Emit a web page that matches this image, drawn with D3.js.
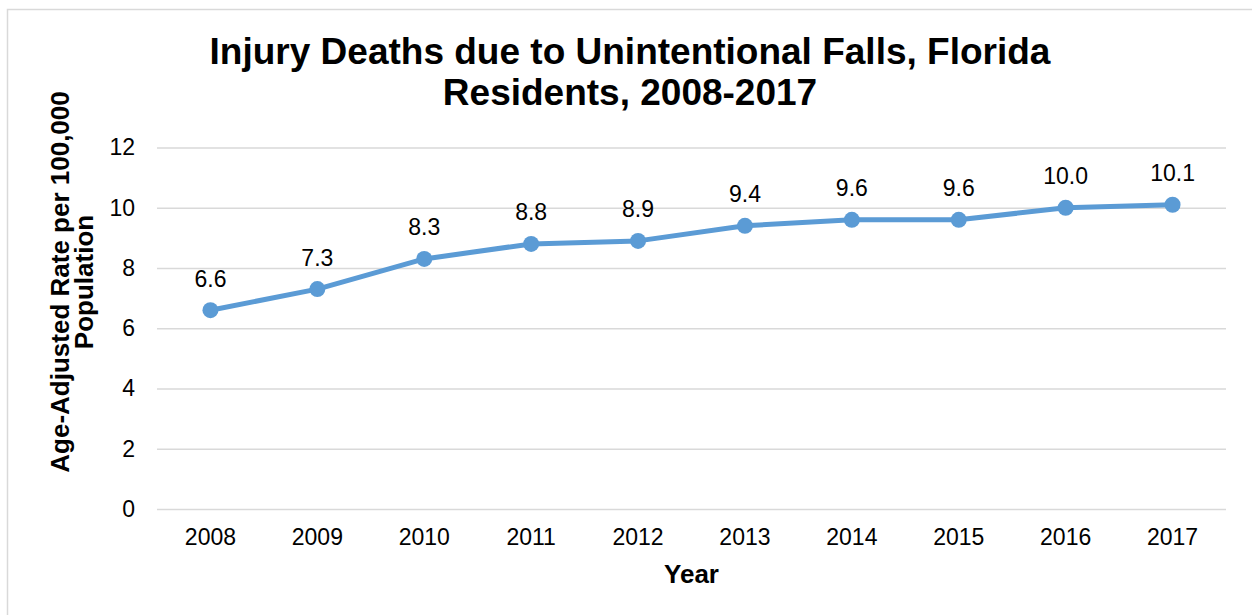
<!DOCTYPE html>
<html>
<head>
<meta charset="utf-8">
<script src="https://cdn.jsdelivr.net/npm/d3@7"></script>
<style>
  body { margin: 0; background: #fff; }
  svg text { font-family: "Liberation Sans", Arial, sans-serif; fill: #000; }
</style>
</head>
<body>
<svg id="chart" width="1252" height="615"></svg>
<script>
// chart data
var years = ["2008", "2009", "2010", "2011", "2012", "2013", "2014", "2015", "2016", "2017"];
var rates = [6.6, 7.3, 8.3, 8.8, 8.9, 9.4, 9.6, 9.6, 10.0, 10.1];
var yTicks = [0, 2, 4, 6, 8, 10, 12];
var titleLines = ["Injury Deaths due to Unintentional Falls, Florida", "Residents, 2008-2017"];
var yTitleLines = ["Age-Adjusted Rate per 100,000", "Population"];

var svg = d3.select("#chart");
// plot area (note: "top" is taken by window.top, so use other names)
var plotLeft = 157, plotRight = 1226, plotTop = 147.5, plotBottom = 509;
var lineColor = "#5b9bd5";

// outer chart border (runs off the right and bottom edges)
svg.append("rect")
    .attr("x", 7.5).attr("y", 9.5)
    .attr("width", 1260).attr("height", 620)
    .attr("fill", "none")
    .attr("stroke", "#d9d9d9")
    .attr("stroke-width", 1.5);

var x = d3.scaleBand().domain(years).range([plotLeft, plotRight]);
var y = d3.scaleLinear().domain([0, 12]).range([plotBottom, plotTop]);

// gridlines + y tick labels
var yAxis = svg.append("g")
    .attr("transform", "translate(" + plotLeft + ",0)")
    .call(d3.axisLeft(y).tickValues(yTicks).tickSize(-(plotRight - plotLeft)).tickPadding(22));
yAxis.select(".domain").remove();
yAxis.selectAll("line").attr("stroke", "#d9d9d9").attr("stroke-width", 1.5);
yAxis.selectAll("text").attr("font-size", 23).attr("font-family", "Liberation Sans, Arial, sans-serif").attr("fill", "#000");

// x tick labels
var xAxis = svg.append("g")
    .attr("transform", "translate(0," + plotBottom + ")")
    .call(d3.axisBottom(x).tickSize(0).tickPadding(20));
xAxis.select(".domain").remove();
xAxis.selectAll("text").attr("font-size", 23).attr("font-family", "Liberation Sans, Arial, sans-serif").attr("fill", "#000");

var cx = function(d, i) { return x(years[i]) + x.bandwidth() / 2; };

// the series line
var line = d3.line()
    .x(function(d, i) { return cx(d, i); })
    .y(function(d) { return y(d); });

svg.append("path")
    .datum(rates)
    .attr("d", line)
    .attr("fill", "none")
    .attr("stroke", lineColor)
    .attr("stroke-width", 5)
    .attr("stroke-linejoin", "round");

svg.selectAll("circle.pt")
    .data(rates)
  .enter().append("circle")
    .attr("class", "pt")
    .attr("cx", cx)
    .attr("cy", function(d) { return y(d); })
    .attr("r", 8)
    .attr("fill", lineColor);

// data labels above points
svg.selectAll("text.lbl")
    .data(rates)
  .enter().append("text")
    .attr("class", "lbl")
    .attr("x", cx)
    .attr("y", function(d) { return y(d) - 23.5; })
    .attr("text-anchor", "middle")
    .attr("font-size", 23)
    .text(function(d) { return d.toFixed(1); });

// title
svg.append("g").selectAll("text")
    .data(titleLines)
  .enter().append("text")
    .attr("x", 630)
    .attr("y", function(d, i) { return 63.5 + i * 41.5; })
    .attr("text-anchor", "middle")
    .attr("font-size", 37)
    .attr("font-weight", "bold")
    .text(function(d) { return d; });

// axis titles
svg.append("text")
    .attr("x", (plotLeft + plotRight) / 2)
    .attr("y", 583)
    .attr("text-anchor", "middle")
    .attr("font-size", 26)
    .attr("font-weight", "bold")
    .text("Year");

svg.append("g").selectAll("text")
    .data(yTitleLines)
  .enter().append("text")
    .attr("transform", function(d, i) { return "translate(" + (69 + i * 24) + ",282) rotate(-90)"; })
    .attr("text-anchor", "middle")
    .attr("font-size", 26)
    .attr("font-weight", "bold")
    .text(function(d) { return d; });
</script>
</body>
</html>
